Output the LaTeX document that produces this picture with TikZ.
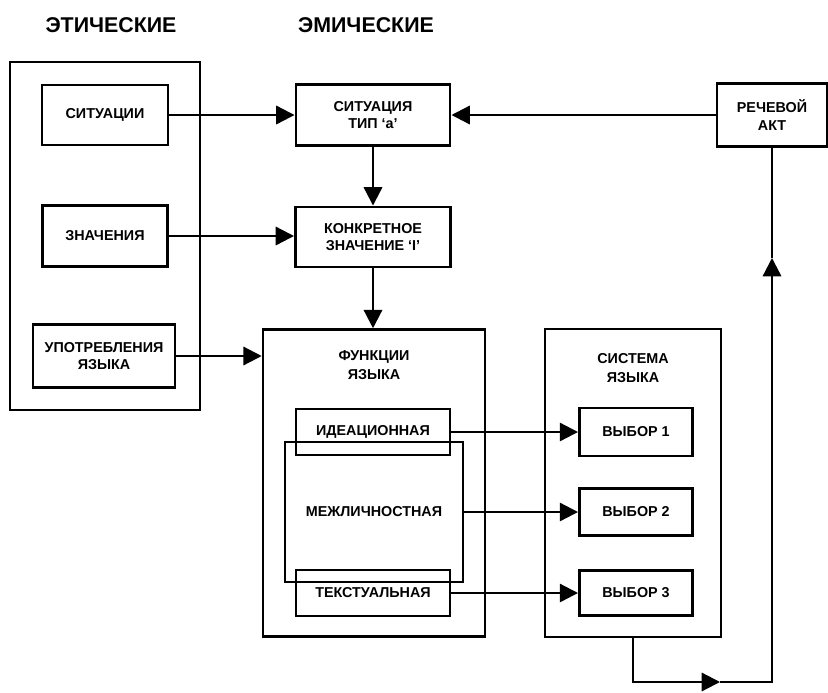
\documentclass[tikz,border=0pt]{standalone}
\usepackage{fontspec}
\setmainfont{Liberation Sans}
\usetikzlibrary{arrows.meta, positioning, calc}

\begin{document}
\begin{tikzpicture}[x=0.025cm, y=-0.025cm,
  >={Triangle[length=13pt, width=13pt]},
  box/.style={draw, line width=2.1pt, align=center, inner sep=0pt,
    font=\fontsize{10.2}{12.2}\selectfont\bfseries},
  frame/.style={draw, line width=1.8pt, inner sep=0pt},
  link/.style={line width=1.6pt},
  head/.style={font=\fontsize{15.2}{17}\selectfont\bfseries},
  label/.style={align=center, font=\fontsize{10.2}{13}\selectfont\bfseries}]

% Background / bounds
\useasboundingbox (0,0) rectangle (828,692);

%% Headings
\node[head] (hetic) at (111,25) {ЭТИЧЕСКИЕ};
\node[head] (hemic) at (366,25) {ЭМИЧЕСКИЕ};

%% Etic column
\node[frame, minimum width=190*0.025cm, minimum height=348*0.025cm] (etic) at (105,236) {};
\node[box, minimum width=126*0.025cm, minimum height=60*0.025cm] (sit) at (105,115) {СИТУАЦИИ};
\node[box, minimum width=125*0.025cm, minimum height=61*0.025cm] (znach) at (105,236) {ЗНАЧЕНИЯ};
\node[box, minimum width=142*0.025cm, minimum height=63*0.025cm] (upotr) at (104,356) {УПОТРЕБЛЕНИЯ\\ЯЗЫКА};

%% Emic column
\node[box, minimum width=154*0.025cm, minimum height=61*0.025cm] (sita) at (373,115) {СИТУАЦИЯ\\ТИП `а'};
\node[box, minimum width=155*0.025cm, minimum height=60*0.025cm] (konkr) at (373,237) {КОНКРЕТНОЕ\\ЗНАЧЕНИЕ `I'};
\node[box, minimum width=110*0.025cm, minimum height=63*0.025cm] (akt) at (772,115) {РЕЧЕВОЙ\\АКТ};

%% Functions of language
\node[frame, minimum width=222*0.025cm, minimum height=307*0.025cm] (func) at (374,483) {};
\node[label] (functitle) at (374,365) {ФУНКЦИИ\\ЯЗЫКА};
\node[box, minimum width=154*0.025cm, minimum height=46*0.025cm] (ideac) at (373,432) {ИДЕАЦИОННАЯ};
\node[box, line width=1.8pt, minimum width=178*0.025cm, minimum height=140*0.025cm] (mezh) at (374,512) {МЕЖЛИЧНОСТНАЯ};
\node[box, minimum width=154*0.025cm, minimum height=46*0.025cm] (textf) at (373,593) {ТЕКСТУАЛЬНАЯ};

%% Language system
\node[frame, minimum width=176*0.025cm, minimum height=308*0.025cm] (sys) at (633,483) {};
\node[label] (systitle) at (633,368) {СИСТЕМА\\ЯЗЫКА};
\node[box, minimum width=113*0.025cm, minimum height=48*0.025cm] (vyb1) at (636,432) {ВЫБОР 1};
\node[box, minimum width=113*0.025cm, minimum height=47*0.025cm] (vyb2) at (636,512) {ВЫБОР 2};
\node[box, minimum width=113*0.025cm, minimum height=45*0.025cm] (vyb3) at (636,593) {ВЫБОР 3};

%% Arrows
\draw[link, ->] (sit.east) -- (sit.east -| sita.west);
\draw[link, ->] (znach.east) -- (znach.east -| konkr.west);
\draw[link, ->] (upotr.east) -- (upotr.east -| func.west);
\draw[link, ->] (sita.south) -- (konkr.north);
\draw[link, ->] (konkr.south) -- (konkr.south |- func.north);
\draw[link, ->] (akt.west) -- (akt.west -| sita.east);

\draw[link, ->] (ideac.east) -- (ideac.east -| vyb1.west);
\draw[link, ->] (mezh.east) -- (mezh.east -| vyb2.west);
\draw[link, ->] (textf.east) -- (textf.east -| vyb3.west);

% Feedback loop
\coordinate (loopb) at (720,682);
\coordinate (loopc) at (akt.south |- loopb);
\coordinate (loopr) at ($(akt.south)+(0,110)$);
\draw[link, ->] (sys.south) |- (loopb);
\draw[link, ->] (loopb) -- (loopc) -- (loopr);
\draw[link] (loopr) -- (akt.south);

\end{tikzpicture}
\end{document}
